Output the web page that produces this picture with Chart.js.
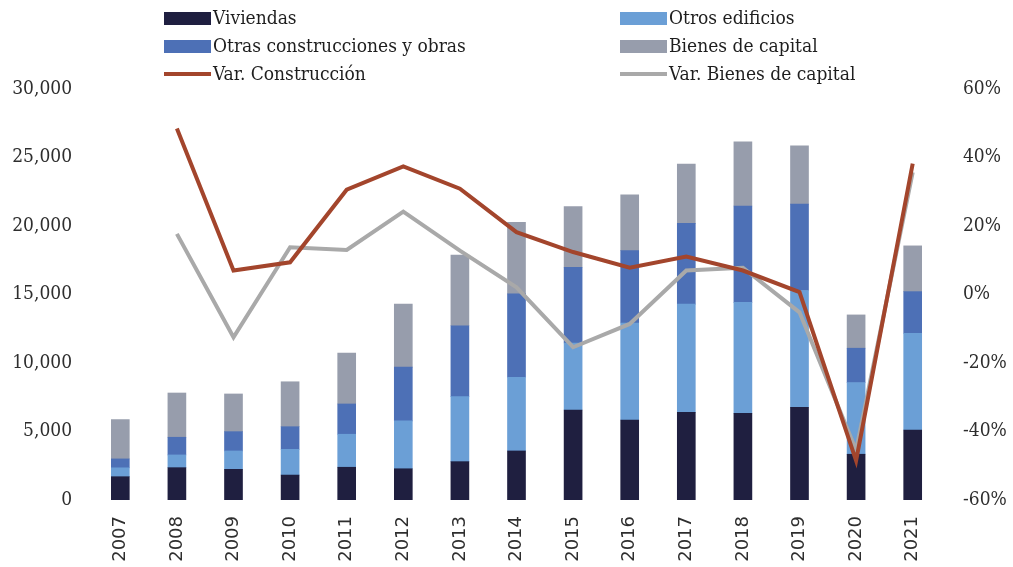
<!DOCTYPE html>
<html>
<head>
<meta charset="utf-8">
<script src="https://cdn.jsdelivr.net/npm/chart.js@4"></script>
<style>
  html, body { margin: 0; padding: 0; background: #ffffff; }
  #wrap { position: relative; width: 1013px; height: 567px; }
  #c { position: absolute; left: 0; top: 0; }
  .lg { position: absolute; font-family: 'DejaVu Serif Condensed', 'DejaVu Serif', serif; font-size: 19px; color: #1e1e1e; white-space: nowrap; line-height: 22px; }
  .sw { position: absolute; }
</style>
</head>
<body>
<div id="wrap">
  <canvas id="c" width="1013" height="567"></canvas>
  <div id="legend"></div>
</div>
<script>
const years = ['2007','2008','2009','2010','2011','2012','2013','2014','2015','2016','2017','2018','2019','2020','2021'];
const viviendas           = [1700, 2360, 2240, 1820, 2390, 2280, 2800, 3580, 6570, 5840, 6400, 6330, 6770, 3340, 5110];
const otrosEdificios      = [ 650,  930, 1340, 1880, 2410, 3500, 4740, 5380, 4890, 7080, 7900, 8100, 8520, 5230, 7060];
const otrasConstrucciones = [ 650, 1290, 1410, 1650, 2210, 3920, 5180, 6080, 5530, 5280, 5890, 7030, 6310, 2510, 3040];
const bienesCapital       = [2870, 3230, 2750, 3280, 3720, 4600, 5160, 5230, 4420, 4070, 4330, 4690, 4260, 2430, 3340];
const varConstruccion     = [null, 48.5, 7.0, 9.4, 30.6, 37.4, 30.9, 18.2, 12.4, 7.8, 11.1, 7.0, 0.7, -48.5, 38.2];
const varBienesCapital    = [null, 17.7, -12.5, 13.8, 13.0, 24.2, 12.8, 2.1, -15.4, -8.6, 7.0, 7.8, -5.2, -45.5, 35.7];
const leftTicks  = [0, 5000, 10000, 15000, 20000, 25000, 30000];
const rightTicks = [-60, -40, -20, 0, 20, 40, 60];

const C = {
  viv: '#1f1f40',
  otros: '#6b9fd6',
  otras: '#4d70b6',
  bienes: '#979dac',
  varCon: '#a3452c',
  varBien: '#a9a9a9'
};

const tickFont = { family: "'DejaVu Serif Condensed', 'DejaVu Serif', serif", size: 19 };

const barDs = (label, data, color) => ({
  type: 'bar', label, data, backgroundColor: color, borderWidth: 0,
  stack: 's', yAxisID: 'y', barThickness: 18, order: 2
});
const lineDs = (label, data, color) => ({
  type: 'line', label, data, borderColor: color, backgroundColor: color,
  borderWidth: 4, pointRadius: 0, tension: 0, yAxisID: 'y1', order: 1, spanGaps: false
});

new Chart(document.getElementById('c'), {
  data: {
    labels: years,
    datasets: [
      barDs('Viviendas', viviendas, C.viv),
      barDs('Otros edificios', otrosEdificios, C.otros),
      barDs('Otras construcciones y obras', otrasConstrucciones, C.otras),
      barDs('Bienes de capital', bienesCapital, C.bienes),
      lineDs('Var. Construcción', varConstruccion, C.varCon),
      lineDs('Var. Bienes de capital', varBienesCapital, C.varBien)
    ]
  },
  options: {
    responsive: false,
    animation: false,
    layout: { padding: { top: 89, bottom: 0, left: 0, right: 0 } },
    plugins: { legend: { display: false }, tooltip: { enabled: false } },
    scales: {
      x: {
        stacked: true,
        grid: { display: false, drawTicks: false },
        border: { display: false },
        ticks: { minRotation: 90, maxRotation: 90, padding: 16, color: '#2e2e2e',
                 font: { family: "'DejaVu Sans', sans-serif", size: 18 } },
        afterFit: (s) => { s.height = 67; }
      },
      y: {
        position: 'left', stacked: true, min: 0, max: 30000,
        afterBuildTicks: (s) => { s.ticks = leftTicks.map(v => ({ value: v })); },
        grid: { display: false, drawTicks: false },
        border: { display: false },
        ticks: { padding: 20, color: '#2e2e2e', font: tickFont,
                 callback: (v) => Number(v).toLocaleString('en-US') },
        afterFit: (s) => { s.width = 92; }
      },
      y1: {
        position: 'right', min: -60, max: 60,
        afterBuildTicks: (s) => { s.ticks = rightTicks.map(v => ({ value: v })); },
        grid: { display: false, drawTicks: false },
        border: { display: false },
        ticks: { padding: 22, color: '#2e2e2e', font: tickFont,
                 callback: (v) => v + '%' },
        afterFit: (s) => { s.width = 72; }
      }
    }
  }
});

// Legend (HTML, two columns)
const legendItems = [
  { label: 'Viviendas', color: C.viv, kind: 'bar', x: 164, y: 18 },
  { label: 'Otros edificios', color: C.otros, kind: 'bar', x: 620, y: 18 },
  { label: 'Otras construcciones y obras', color: C.otras, kind: 'bar', x: 164, y: 46 },
  { label: 'Bienes de capital', color: C.bienes, kind: 'bar', x: 620, y: 46 },
  { label: 'Var. Construcción', color: C.varCon, kind: 'line', x: 164, y: 74 },
  { label: 'Var. Bienes de capital', color: C.varBien, kind: 'line', x: 620, y: 74 }
];
const lg = document.getElementById('legend');
legendItems.forEach(it => {
  const sw = document.createElement('div');
  sw.className = 'sw';
  const h = it.kind === 'bar' ? 13 : 4;
  sw.style.left = it.x + 'px';
  sw.style.top = (it.y - h / 2) + 'px';
  sw.style.width = '47px';
  sw.style.height = h + 'px';
  sw.style.background = it.color;
  lg.appendChild(sw);
  const t = document.createElement('div');
  t.className = 'lg';
  t.textContent = it.label;
  t.style.left = (it.x + 49) + 'px';
  t.style.top = (it.y - 12) + 'px';
  lg.appendChild(t);
});
</script>
</body>
</html>
